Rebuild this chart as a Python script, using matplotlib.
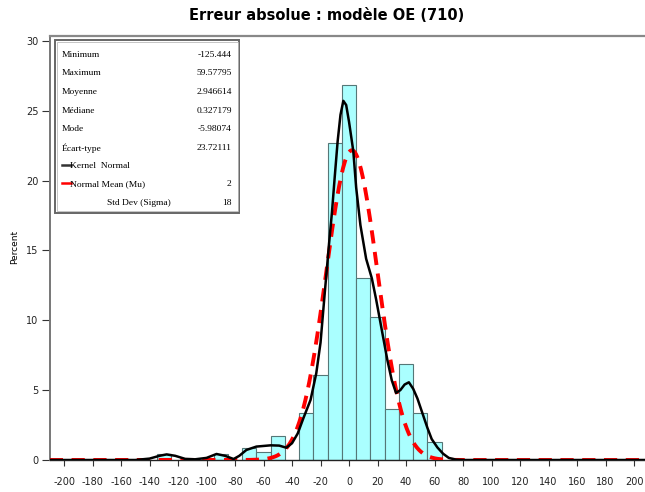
import numpy as np
import matplotlib
matplotlib.use('Agg')
import matplotlib.pyplot as plt
from matplotlib.patches import Rectangle
from matplotlib.lines import Line2D

plt.rcParams['axes.unicode_minus'] = False

# histogram bins (centre of bin, percent)
bin_centers = [-130, -90, -70, -60, -50, -30, -20, -10, 0, 10, 20, 30, 40, 50, 60]
bin_percent = [0.45, 0.45, 0.89, 0.6, 1.73, 3.36, 6.1, 22.7, 26.8, 13.0, 10.2, 3.67, 6.9, 3.36, 1.32]
bin_width = 10

# kernel density curve
kernel_x = [-210, -150, -140, -133, -128, -122, -115, -108, -100, -93, -87, -81, -77, -72,
            -65, -55, -49, -44, -40, -36, -32, -27, -23, -20, -17, -14, -12, -10, -8, -6,
            -4, -2, 0, 3, 5, 8, 12, 16, 19, 23, 27, 30, 33, 36, 39, 42, 45, 48, 52, 55,
            58, 62, 66, 70, 75, 80, 208]
kernel_y = [0, 0, 0.1, 0.3, 0.4, 0.3, 0.08, 0.05, 0.15, 0.43, 0.3, 0.07, 0.3, 0.72,
            0.96, 1.05, 1.03, 0.88, 1.2, 1.9, 3.0, 4.3, 6.2, 8.4, 12.0, 15.5, 17.7, 20.3, 22.8, 24.7,
            25.7, 25.4, 24.2, 22.1, 19.5, 16.8, 14.4, 13.0, 11.5, 9.3, 7.1, 5.7, 4.8, 5.0, 5.4, 5.56, 5.1, 4.4, 3.2, 2.3,
            1.5, 0.9, 0.45, 0.15, 0.03, 0, 0]

# fitted normal parameters (from the inset)
MU = 2
SIGMA = 18

stat_labels = ['Minimum', 'Maximum', 'Moyenne', 'Médiane', 'Mode', 'Écart-type']
stat_values = ['-125.444', '59.57795', '2.946614', '0.327179', '-5.98074', '23.72111']

xticks = list(range(-200, 201, 20))
yticks = [0, 5, 10, 15, 20, 25, 30]

W, H = 645, 492
fig = plt.figure(figsize=(W / 100, H / 100), dpi=100)

def fx(x):
    return x / W

def fy(y):
    return 1 - y / H

ax = fig.add_axes([fx(49.5), fy(460), 1 - fx(49.5), fy(36) - fy(460)])

ax.bar(bin_centers, bin_percent, width=bin_width, color='#aaffff', edgecolor='#557777',
       linewidth=0.8, zorder=2)

ax.plot(kernel_x, kernel_y, color='black', lw=1.8, zorder=4)

nx = np.linspace(-210, 208, 600)
ny = 100 * bin_width * np.exp(-0.5 * ((nx - MU) / SIGMA) ** 2) / (SIGMA * np.sqrt(2 * np.pi))
ax.plot(nx, ny, color='#ff0000', lw=2.8, dashes=(3.4, 2.2), zorder=3)

ax.set_xlim(-210.2, 207.7)
ax.set_ylim(0, 30.34)
ax.set_xticks(xticks)
ax.set_yticks(yticks)
ax.tick_params(axis='x', direction='out', length=4, width=0.8, labelsize=7, pad=8, colors='#333333')
ax.tick_params(axis='y', direction='out', length=6, width=0.8, labelsize=7, pad=2, colors='#333333')
for lab in ax.get_xticklabels() + ax.get_yticklabels():
    lab.set_color('#222222')
ax.spines['right'].set_visible(False)
ax.spines['top'].set_color('#888888')
ax.spines['top'].set_linewidth(1.6)
ax.spines['left'].set_color('#777777')
ax.spines['left'].set_linewidth(1.4)
ax.spines['bottom'].set_color('#222222')
ax.spines['bottom'].set_linewidth(1.0)

fig.text(fx(15), fy(247), 'Percent', rotation=90, ha='center', va='center', fontsize=6.5)
fig.text(fx(327), fy(15), 'Erreur absolue : modèle OE (710)', ha='center', va='center',
         fontsize=10.5, fontweight='bold', family='DejaVu Sans')

# inset statistics box
fig.add_artist(Rectangle((fx(55), fy(212.7)), fx(239.3) - fx(55), fy(40) - fy(212.7),
                         transform=fig.transFigure, facecolor='white', edgecolor='#666666',
                         lw=1.4, zorder=10))
fig.add_artist(Rectangle((fx(56.5), fy(211.2)), fx(237.8) - fx(56.5), fy(41.5) - fy(211.2),
                         transform=fig.transFigure, facecolor='none', edgecolor='#bbbbbb',
                         lw=0.6, zorder=11))

row_y = [55, 73.3, 91.7, 111, 129.3, 148.3, 166, 184.3, 203.3]
font = dict(fontsize=6.8, family='Liberation Serif', va='center', zorder=12)
for i, (lab, val) in enumerate(zip(stat_labels, stat_values)):
    fig.text(fx(61.7), fy(row_y[i]), lab, ha='left', **font)
    fig.text(fx(231.7), fy(row_y[i]), val, ha='right', **font)

fig.add_artist(Line2D([fx(61.7), fx(70.5)], [fy(164.5), fy(164.5)], color='#333333', lw=1.8,
                      transform=fig.transFigure, zorder=12))
fig.text(fx(70.5), fy(row_y[6]), 'Kernel  Normal', ha='left', **font)
fig.add_artist(Line2D([fx(61.7), fx(70.5)], [fy(182.7), fy(182.7)], color='#ff0000', lw=1.8,
                      transform=fig.transFigure, zorder=12))
fig.text(fx(70.5), fy(row_y[7]), 'Normal Mean (Mu)', ha='left', **font)
fig.text(fx(231.7), fy(row_y[7]), str(MU), ha='right', **font)
fig.text(fx(106.7), fy(row_y[8]), 'Std Dev (Sigma)', ha='left', **font)
fig.text(fx(231.7), fy(row_y[8]), str(SIGMA), ha='right', **font)

fig.savefig('out.png', dpi=100)
